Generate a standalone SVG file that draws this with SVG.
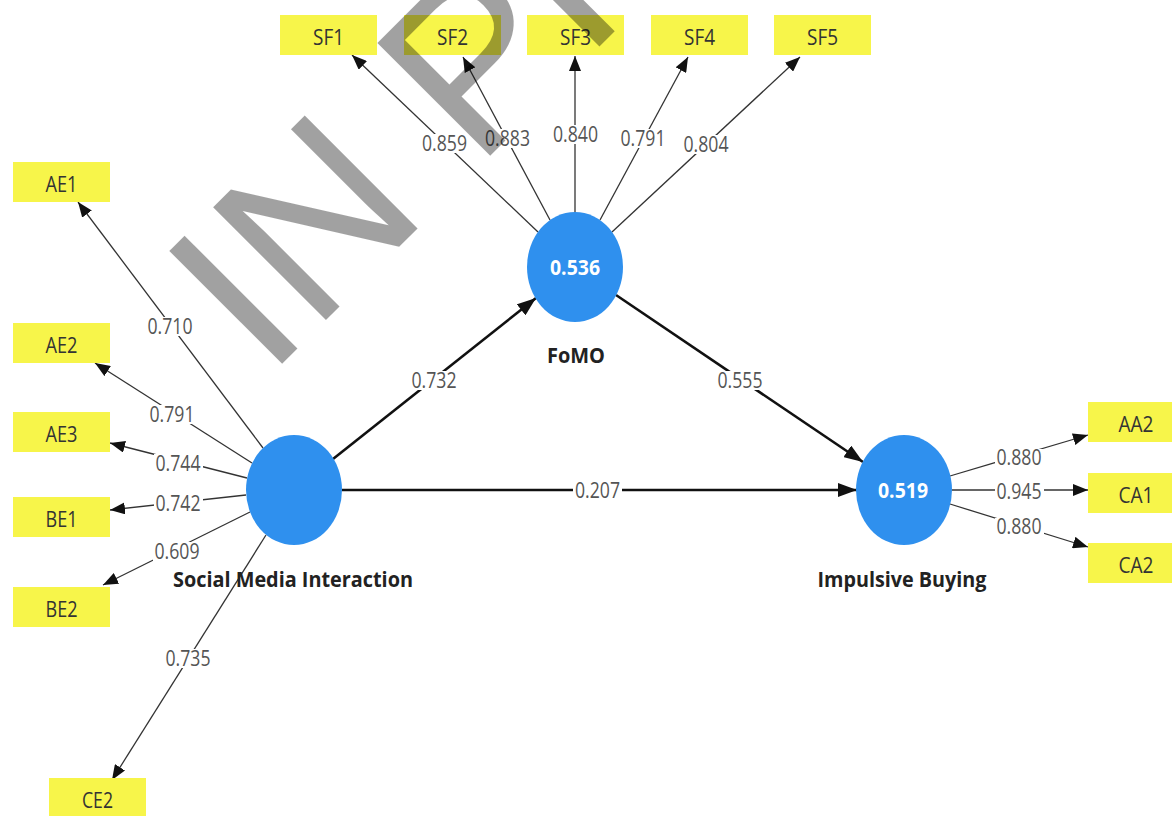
<svg xmlns="http://www.w3.org/2000/svg" width="1172" height="816" viewBox="0 0 1172 816">
<style>
.box{fill:#f7f54a}
.bt{font-family:"Open Sans","Noto Sans",sans-serif;font-size:22px;fill:#333;text-anchor:middle}
.lat{fill:#2f90ee}
.lv{font-family:"Open Sans","Noto Sans",sans-serif;font-size:22px;font-weight:bold;fill:#fff;text-anchor:middle}
.ln{font-family:"Open Sans","Noto Sans",sans-serif;font-size:21px;font-weight:bold;fill:#222;text-anchor:middle}
.thin{stroke:#333;stroke-width:1.3;fill:none;marker-end:url(#ah)}
.thick{stroke:#111;stroke-width:2.6;fill:none;marker-end:url(#ahb)}
.bg{fill:#fff}
.num{font-family:"Open Sans","Noto Sans",sans-serif;font-size:21px;fill:#555;text-anchor:middle}
.wm{font-family:"Liberation Sans",Arial,sans-serif;font-size:232px;fill:#000;fill-opacity:0.37}
</style>
<defs>
<marker id="ah" viewBox="0 0 15 12" refX="15" refY="6" markerWidth="15" markerHeight="12" orient="auto" markerUnits="userSpaceOnUse"><path d="M0,0 L15,6 L0,12 z" fill="#111"/></marker>
<marker id="ahb" viewBox="0 0 19 14" refX="19" refY="7" markerWidth="19" markerHeight="14" orient="auto" markerUnits="userSpaceOnUse"><path d="M0,0 L19,7 L0,14 z" fill="#111"/></marker>
</defs>
<rect width="1172" height="816" fill="#fff"/>

<g id="connectors">
<line class="thin" x1="538" y1="232" x2="352" y2="55"/>
<line class="thin" x1="550" y1="220" x2="463" y2="57"/>
<line class="thin" x1="575" y1="212" x2="575" y2="56"/>
<line class="thin" x1="600" y1="220" x2="688" y2="57"/>
<line class="thin" x1="612" y1="232" x2="800" y2="57"/>
<line class="thin" x1="263" y1="448" x2="78" y2="202"/>
<line class="thin" x1="252" y1="463" x2="95" y2="363"/>
<line class="thin" x1="247" y1="478" x2="110" y2="443"/>
<line class="thin" x1="246" y1="495" x2="110" y2="510"/>
<line class="thin" x1="250" y1="512" x2="103" y2="585"/>
<line class="thin" x1="266" y1="535" x2="112" y2="780"/>
<line class="thin" x1="950" y1="476" x2="1088" y2="435"/>
<line class="thin" x1="952" y1="490" x2="1088" y2="490"/>
<line class="thin" x1="950" y1="504" x2="1088" y2="547"/>
<line class="thick" x1="333" y1="459" x2="536" y2="298"/>
<line class="thick" x1="616" y1="295" x2="863" y2="462"/>
<line class="thick" x1="342" y1="490" x2="857" y2="490"/>
<g id="labels">
<rect class="bg" x="420" y="134" width="49" height="19"/><text class="num" x="444.5" y="151" textLength="45" lengthAdjust="spacingAndGlyphs">0.859</text>
<rect class="bg" x="483" y="129" width="49" height="19"/><text class="num" x="507.5" y="146" textLength="45" lengthAdjust="spacingAndGlyphs">0.883</text>
<rect class="bg" x="551" y="125" width="49" height="19"/><text class="num" x="575.5" y="142" textLength="45" lengthAdjust="spacingAndGlyphs">0.840</text>
<rect class="bg" x="619" y="129" width="49" height="19"/><text class="num" x="643" y="146" textLength="45" lengthAdjust="spacingAndGlyphs">0.791</text>
<rect class="bg" x="682" y="135" width="49" height="19"/><text class="num" x="706" y="152" textLength="45" lengthAdjust="spacingAndGlyphs">0.804</text>
<rect class="bg" x="146" y="317" width="49" height="19"/><text class="num" x="170" y="334" textLength="45" lengthAdjust="spacingAndGlyphs">0.710</text>
<rect class="bg" x="148" y="405" width="49" height="19"/><text class="num" x="172" y="422" textLength="45" lengthAdjust="spacingAndGlyphs">0.791</text>
<rect class="bg" x="154" y="454" width="49" height="19"/><text class="num" x="178" y="471" textLength="45" lengthAdjust="spacingAndGlyphs">0.744</text>
<rect class="bg" x="154" y="494" width="49" height="19"/><text class="num" x="178" y="511" textLength="45" lengthAdjust="spacingAndGlyphs">0.742</text>
<rect class="bg" x="153" y="542" width="49" height="19"/><text class="num" x="177" y="559" textLength="45" lengthAdjust="spacingAndGlyphs">0.609</text>
<rect class="bg" x="164" y="649" width="49" height="19"/><text class="num" x="188" y="666" textLength="45" lengthAdjust="spacingAndGlyphs">0.735</text>
<rect class="bg" x="995" y="449" width="49" height="19"/><text class="num" x="1019" y="465" textLength="45" lengthAdjust="spacingAndGlyphs">0.880</text>
<rect class="bg" x="995" y="483" width="49" height="19"/><text class="num" x="1019" y="499" textLength="45" lengthAdjust="spacingAndGlyphs">0.945</text>
<rect class="bg" x="995" y="518" width="49" height="19"/><text class="num" x="1019" y="534" textLength="45" lengthAdjust="spacingAndGlyphs">0.880</text>
<rect class="bg" x="410" y="371" width="49" height="19"/><text class="num" x="434" y="388" textLength="45" lengthAdjust="spacingAndGlyphs">0.732</text>
<rect class="bg" x="716" y="371" width="49" height="19"/><text class="num" x="740" y="388" textLength="45" lengthAdjust="spacingAndGlyphs">0.555</text>
<rect class="bg" x="573" y="481" width="49" height="19"/><text class="num" x="597.5" y="498" textLength="45" lengthAdjust="spacingAndGlyphs">0.207</text>
</g>
</g>

<g id="FoMO"><ellipse class="lat" cx="575" cy="267" rx="48" ry="55"/><text class="lv" x="575" y="275" textLength="50" lengthAdjust="spacingAndGlyphs">0.536</text><text class="ln" x="576" y="363" textLength="58" lengthAdjust="spacingAndGlyphs">FoMO</text></g>
<g id="SMI"><ellipse class="lat" cx="294" cy="490" rx="48" ry="55"/><text class="ln" x="293" y="587" textLength="240" lengthAdjust="spacingAndGlyphs">Social Media Interaction</text></g>
<g id="IB"><ellipse class="lat" cx="904" cy="490" rx="48" ry="55"/><text class="lv" x="903" y="498" textLength="50" lengthAdjust="spacingAndGlyphs">0.519</text><text class="ln" x="902" y="587" textLength="169" lengthAdjust="spacingAndGlyphs">Impulsive Buying</text></g>

<g id="SF1"><rect class="box" x="280" y="15" width="97" height="40"/><text class="bt" x="328.5" y="44.5" textLength="31" lengthAdjust="spacingAndGlyphs">SF1</text></g>
<g id="SF2"><rect class="box" x="404" y="15" width="97" height="40"/><text class="bt" x="452.5" y="44.5" textLength="31" lengthAdjust="spacingAndGlyphs">SF2</text></g>
<g id="SF3"><rect class="box" x="527" y="15" width="97" height="40"/><text class="bt" x="575.5" y="44.5" textLength="31" lengthAdjust="spacingAndGlyphs">SF3</text></g>
<g id="SF4"><rect class="box" x="651" y="15" width="97" height="40"/><text class="bt" x="699.5" y="44.5" textLength="31" lengthAdjust="spacingAndGlyphs">SF4</text></g>
<g id="SF5"><rect class="box" x="774" y="15" width="97" height="40"/><text class="bt" x="822.5" y="44.5" textLength="31" lengthAdjust="spacingAndGlyphs">SF5</text></g>
<g id="AE1"><rect class="box" x="13" y="162" width="97" height="40"/><text class="bt" x="61.5" y="191.5" textLength="32" lengthAdjust="spacingAndGlyphs">AE1</text></g>
<g id="AE2"><rect class="box" x="13" y="323" width="97" height="40"/><text class="bt" x="61.5" y="352.5" textLength="32" lengthAdjust="spacingAndGlyphs">AE2</text></g>
<g id="AE3"><rect class="box" x="13" y="412" width="97" height="40"/><text class="bt" x="61.5" y="441.5" textLength="32" lengthAdjust="spacingAndGlyphs">AE3</text></g>
<g id="BE1"><rect class="box" x="13" y="497" width="97" height="40"/><text class="bt" x="61.5" y="526.5" textLength="32" lengthAdjust="spacingAndGlyphs">BE1</text></g>
<g id="BE2"><rect class="box" x="13" y="587" width="97" height="40"/><text class="bt" x="61.5" y="616.5" textLength="32" lengthAdjust="spacingAndGlyphs">BE2</text></g>
<g id="CE2"><rect class="box" x="49" y="778" width="97" height="40"/><text class="bt" x="97.5" y="807.5" textLength="31" lengthAdjust="spacingAndGlyphs">CE2</text></g>
<g id="AA2"><rect class="box" x="1088" y="402" width="97" height="40"/><text class="bt" x="1136" y="431.5" textLength="35" lengthAdjust="spacingAndGlyphs">AA2</text></g>
<g id="CA1"><rect class="box" x="1088" y="473" width="97" height="40"/><text class="bt" x="1136" y="502.5" textLength="35" lengthAdjust="spacingAndGlyphs">CA1</text></g>
<g id="CA2"><rect class="box" x="1088" y="543" width="97" height="40"/><text class="bt" x="1136" y="572.5" textLength="35" lengthAdjust="spacingAndGlyphs">CA2</text></g>

<text class="wm" transform="translate(267,379) rotate(-45)">IN PRESS</text>
</svg>
